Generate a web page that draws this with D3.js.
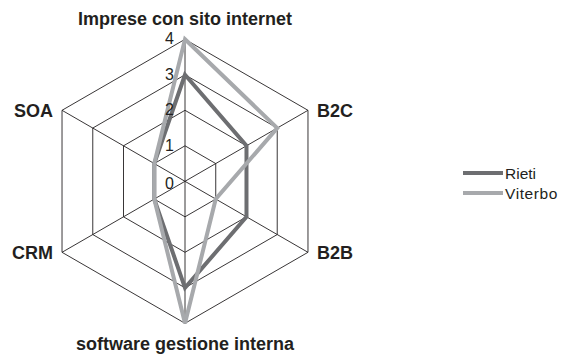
<!DOCTYPE html>
<html>
<head>
<meta charset="utf-8">
<script src="https://cdn.jsdelivr.net/npm/d3@7"></script>
<style>
  body { margin: 0; background: #fff; }
  text { font-family: "Liberation Sans", Arial, Helvetica, sans-serif; fill: #231f20; }
</style>
</head>
<body>
<div id="chart"></div>
<script>
// axes, clockwise from the top
const categories = ["Imprese con sito internet", "B2C", "B2B", "software gestione interna", "CRM", "SOA"];
const levels = [0, 1, 2, 3, 4];
const seriesNames = ["Rieti", "Viterbo"];
const rieti = [3, 2, 2, 3, 1, 1];
const viterbo = [4, 3, 1, 4, 1, 1];

const width = 561;
const height = 356;
const cx = 185, cy = 181.3, radius = 142;
const colors = { Rieti: "#6d6e71", Viterbo: "#a7a9ac" };

const svg = d3.select("#chart").append("svg")
  .attr("width", width)
  .attr("height", height);

const r = d3.scaleLinear().domain([0, 4]).range([0, radius]);
const angle = d3.scaleLinear().domain([0, categories.length]).range([0, 2 * Math.PI]);

function pt(i, v) {
  const a = angle(i);
  return [cx + r(v) * Math.sin(a), cy - r(v) * Math.cos(a)];
}

const g = svg.append("g");

// rings
levels.slice(1).forEach(lv => {
  g.append("path")
    .attr("d", d3.line()(categories.map((c, i) => pt(i, lv))) + "Z")
    .attr("fill", "none")
    .attr("stroke", "#231f20")
    .attr("stroke-width", 0.9);
});

// spokes
categories.forEach((c, i) => {
  const [x, y] = pt(i, 4);
  g.append("line")
    .attr("x1", cx).attr("y1", cy)
    .attr("x2", x).attr("y2", y)
    .attr("stroke", "#231f20")
    .attr("stroke-width", 0.9);
});

// series
const series = [
  { name: "Rieti", values: rieti },
  { name: "Viterbo", values: viterbo },
];
const line = d3.line().curve(d3.curveLinearClosed);
series.forEach(s => {
  g.append("path")
    .attr("d", line(s.values.map((v, i) => pt(i, v))))
    .attr("fill", "none")
    .attr("stroke", colors[s.name])
    .attr("stroke-width", 4)
    .attr("stroke-linejoin", "miter");
});

// level labels
levels.forEach(lv => {
  g.append("text")
    .attr("x", cx - 11)
    .attr("y", cy - r(lv) + 5 + (lv === 0 ? 3 : 0))
    .attr("text-anchor", "end")
    .attr("font-size", 16)
    .text(lv);
});

// axis labels
categories.forEach((c, i) => {
  const [x, y] = pt(i, 4);
  const t = g.append("text")
    .attr("font-size", 18)
    .attr("font-weight", "bold")
    .text(c);
  if (i === 0) {
    t.attr("x", x).attr("y", y - 14).attr("text-anchor", "middle");
  } else if (i === 3) {
    t.attr("x", x).attr("y", y + 27).attr("text-anchor", "middle");
  } else if (i < 3) {
    t.attr("x", x + 9).attr("y", y + 6.5).attr("text-anchor", "start");
  } else {
    t.attr("x", x - 9).attr("y", y + 6.5).attr("text-anchor", "end");
  }
});

// legend
const legend = svg.append("g").attr("transform", "translate(463,173)");
seriesNames.forEach((n, i) => {
  const row = legend.append("g").attr("transform", `translate(0,${i * 20})`);
  row.append("line")
    .attr("x1", 0).attr("x2", 40)
    .attr("stroke", colors[n])
    .attr("stroke-width", 4);
  row.append("text")
    .attr("x", 42)
    .attr("y", 5.5)
    .attr("font-size", 15.5)
    .attr("letter-spacing", i === 1 ? 0.6 : 0)
    .text(n);
});
</script>
</body>
</html>
